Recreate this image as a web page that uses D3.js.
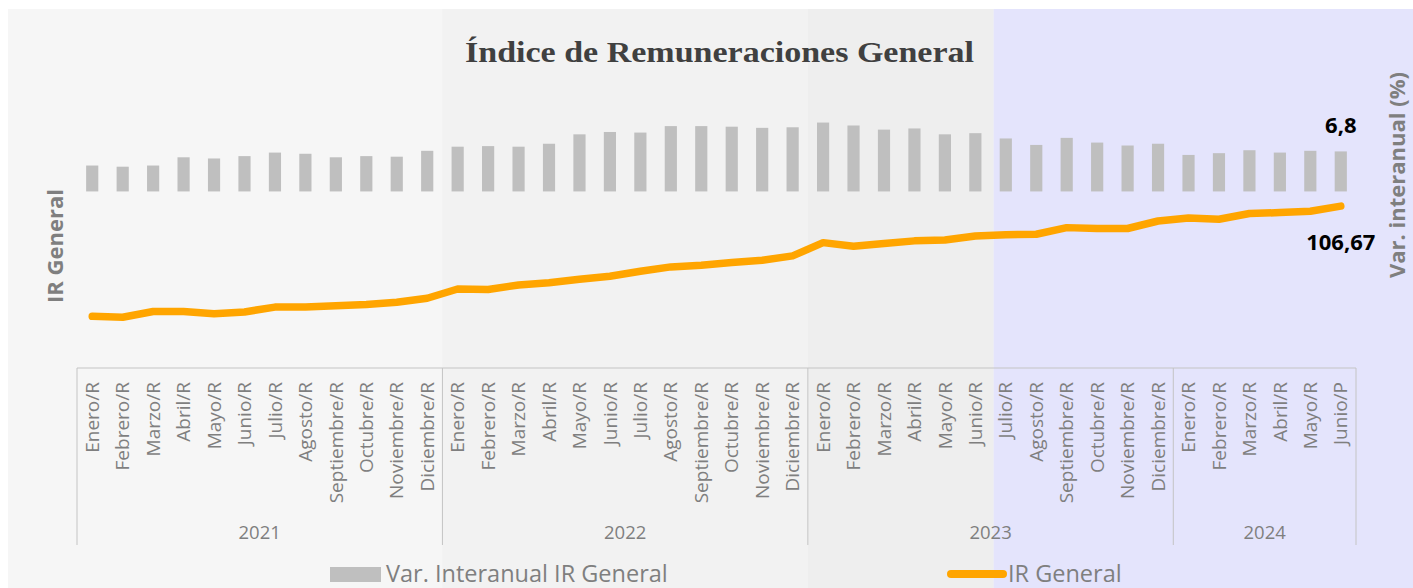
<!DOCTYPE html>
<html>
<head>
<meta charset="utf-8">
<script src="https://cdn.jsdelivr.net/npm/d3@7"></script>
<style>
  body { margin: 0; background: #ffffff; }
  svg { display: block; }
</style>
</head>
<body>
<script>
var svgWidth = 1413;
var svgHeight = 588;

// Data
var yearLabels = ["2021", "2022", "2023", "2024"];
var monthsPerYear = [12, 12, 12, 6];
var monthLabels = [
  "Enero/R", "Febrero/R", "Marzo/R", "Abril/R", "Mayo/R", "Junio/R", "Julio/R", "Agosto/R", "Septiembre/R", "Octubre/R", "Noviembre/R", "Diciembre/R",
  "Enero/R", "Febrero/R", "Marzo/R", "Abril/R", "Mayo/R", "Junio/R", "Julio/R", "Agosto/R", "Septiembre/R", "Octubre/R", "Noviembre/R", "Diciembre/R",
  "Enero/R", "Febrero/R", "Marzo/R", "Abril/R", "Mayo/R", "Junio/R", "Julio/R", "Agosto/R", "Septiembre/R", "Octubre/R", "Noviembre/R", "Diciembre/R",
  "Enero/R", "Febrero/R", "Marzo/R", "Abril/R", "Mayo/R", "Junio/P"
];
// Var. interanual IR General (%)
var varInteranual = [
  4.4, 4.2, 4.4, 5.8, 5.6, 6.0, 6.6, 6.4, 5.8, 6.0, 5.9, 6.9,
  7.6, 7.7, 7.6, 8.1, 9.7, 10.1, 10.0, 11.1, 11.1, 11.0, 10.8, 10.9,
  11.7, 11.2, 10.5, 10.7, 9.7, 9.9, 9.0, 7.9, 9.1, 8.3, 7.8, 8.1,
  6.2, 6.5, 7.0, 6.6, 6.9, 6.8
];
// IR General (índice)
var irGeneral = [
  81.7, 81.5, 82.8, 82.8, 82.3, 82.7, 83.8, 83.8, 84.1, 84.4, 84.9, 85.8,
  87.9, 87.8, 88.8, 89.3, 90.1, 90.8, 91.9, 92.9, 93.3, 93.9, 94.4, 95.4,
  98.4, 97.6, 98.2, 98.8, 99.0, 99.9, 100.2, 100.3, 101.8, 101.6, 101.6, 103.3,
  104.0, 103.7, 105.0, 105.2, 105.5, 106.67
];

var numFmt = function (v, dec) { return d3.format("." + dec + "f")(v).replace(".", ","); };

var svg = d3.select("body")
  .append("svg")
  .attr("width", svgWidth)
  .attr("height", svgHeight);

// plot area
var plot = { left: 77, right: 1356, top: 59, bottom: 368 };
var keys = d3.range(monthLabels.length);

var xBand = d3.scaleBand()
  .domain(keys)
  .range([plot.left, plot.right])
  .paddingInner(0.6)
  .paddingOuter(0.3);

var xEdge = d3.scaleLinear()
  .domain([0, monthLabels.length])
  .range([plot.left, plot.right]);

var yLine = d3.scaleLinear().domain([70, 140]).range([plot.bottom, plot.top]);
var yBar = d3.scaleLinear().domain([-30, 22.5]).range([plot.bottom, plot.top]);

// background panels
svg.append("rect")
  .attr("x", 8).attr("y", 9)
  .attr("width", svgWidth - 8).attr("height", svgHeight - 9)
  .attr("fill", "#f6f6f6");
var panels = [
  { from: 12, to: 24, color: "#f2f2f2" },
  { from: 24, to: 30.1, color: "#eeeeee" },
  { from: 30.1, to: null, color: "#e4e4fc" }
];
svg.append("g").selectAll("rect")
  .data(panels).enter()
  .append("rect")
  .attr("x", d => xEdge(d.from))
  .attr("y", 9)
  .attr("width", d => (d.to === null ? svgWidth : xEdge(d.to)) - xEdge(d.from))
  .attr("height", svgHeight - 9)
  .attr("fill", d => d.color);

// title
svg.append("text")
  .attr("x", 719.5).attr("y", 62)
  .attr("text-anchor", "middle")
  .attr("textLength", 509)
  .attr("lengthAdjust", "spacingAndGlyphs")
  .style("font-family", "'Liberation Serif', serif")
  .style("font-weight", "bold")
  .style("font-size", "30px")
  .attr("fill", "#404040")
  .text("Índice de Remuneraciones General");

// bars
svg.append("g").selectAll("rect")
  .data(varInteranual).enter()
  .append("rect")
  .attr("x", (d, i) => xBand(i))
  .attr("width", xBand.bandwidth())
  .attr("y", d => yBar(d))
  .attr("height", d => yBar(0) - yBar(d))
  .attr("fill", "#bfbfbf");

// line
var line = d3.line()
  .x((d, i) => xBand(i) + xBand.bandwidth() / 2)
  .y(d => yLine(d));

svg.append("path")
  .datum(irGeneral)
  .attr("d", line)
  .attr("fill", "none")
  .attr("stroke", "#ffa500")
  .attr("stroke-width", 7.5)
  .attr("stroke-linejoin", "round")
  .attr("stroke-linecap", "round");

// data labels on the last point
var last = monthLabels.length - 1;
var lastX = xBand(last) + xBand.bandwidth() / 2;
svg.append("text")
  .attr("x", lastX).attr("y", yBar(varInteranual[last]) - 18)
  .attr("text-anchor", "middle")
  .style("font-family", "'Open Sans', sans-serif")
  .style("font-weight", "bold")
  .style("font-size", "22px")
  .attr("fill", "#000")
  .text(numFmt(varInteranual[last], 1));
svg.append("text")
  .attr("x", lastX).attr("y", yLine(irGeneral[last]) + 44)
  .attr("text-anchor", "middle")
  .style("font-family", "'Open Sans', sans-serif")
  .style("font-weight", "bold")
  .style("font-size", "22px")
  .attr("fill", "#000")
  .text(numFmt(irGeneral[last], 2));

// category axis (months + years)
var axisColor = "#c4c4c4";
var axisBottom = 545;
var axis = svg.append("g");
axis.append("line")
  .attr("x1", plot.left).attr("x2", plot.right)
  .attr("y1", plot.bottom).attr("y2", plot.bottom)
  .attr("stroke", axisColor);

var yearStarts = [0];
monthsPerYear.forEach((m, i) => yearStarts.push(yearStarts[i] + m));
axis.selectAll(".divider")
  .data(yearStarts).enter()
  .append("line")
  .attr("x1", d => xEdge(d)).attr("x2", d => xEdge(d))
  .attr("y1", plot.bottom).attr("y2", axisBottom)
  .attr("stroke", axisColor);

axis.selectAll(".month")
  .data(monthLabels).enter()
  .append("text")
  .attr("transform", (d, i) => "translate(" + (xBand(i) + xBand.bandwidth() / 2) + "," + (plot.bottom + 14) + ") rotate(-90)")
  .attr("dy", "0.35em")
  .attr("text-anchor", "end")
  .style("font-family", "'Open Sans', sans-serif")
  .style("font-size", "19px")
  .attr("fill", "#7f7f7f")
  .text(d => d);

axis.selectAll(".year")
  .data(yearLabels).enter()
  .append("text")
  .attr("x", (d, i) => xEdge(yearStarts[i] + monthsPerYear[i] / 2))
  .attr("y", 539)
  .attr("text-anchor", "middle")
  .style("font-family", "'Open Sans', sans-serif")
  .style("font-size", "18.5px")
  .attr("fill", "#7f7f7f")
  .text(d => d);

// axis titles
svg.append("text")
  .attr("transform", "translate(63,246) rotate(-90)")
  .attr("text-anchor", "middle")
  .style("font-family", "'Open Sans', sans-serif")
  .style("font-weight", "bold")
  .style("font-size", "22px")
  .attr("fill", "#7f7f7f")
  .text("IR General");
svg.append("text")
  .attr("transform", "translate(1405,175) rotate(-90)")
  .attr("text-anchor", "middle")
  .style("font-family", "'Open Sans', sans-serif")
  .style("font-weight", "bold")
  .style("font-size", "22px")
  .attr("fill", "#7f7f7f")
  .text("Var. interanual (%)");

// legend
var legend = svg.append("g");
legend.append("rect")
  .attr("x", 330).attr("y", 567)
  .attr("width", 51).attr("height", 15)
  .attr("fill", "#bfbfbf");
legend.append("text")
  .attr("x", 386).attr("y", 582)
  .style("font-family", "'Open Sans', sans-serif")
  .style("font-size", "23.5px")
  .attr("fill", "#7f7f7f")
  .text("Var. Interanual IR General");
legend.append("line")
  .attr("x1", 951).attr("x2", 1003)
  .attr("y1", 574).attr("y2", 574)
  .attr("stroke", "#ffa500")
  .attr("stroke-width", 8)
  .attr("stroke-linecap", "round");
legend.append("text")
  .attr("x", 1008).attr("y", 582)
  .style("font-family", "'Open Sans', sans-serif")
  .style("font-size", "23.5px")
  .attr("fill", "#7f7f7f")
  .text("IR General");
</script>
</body>
</html>
